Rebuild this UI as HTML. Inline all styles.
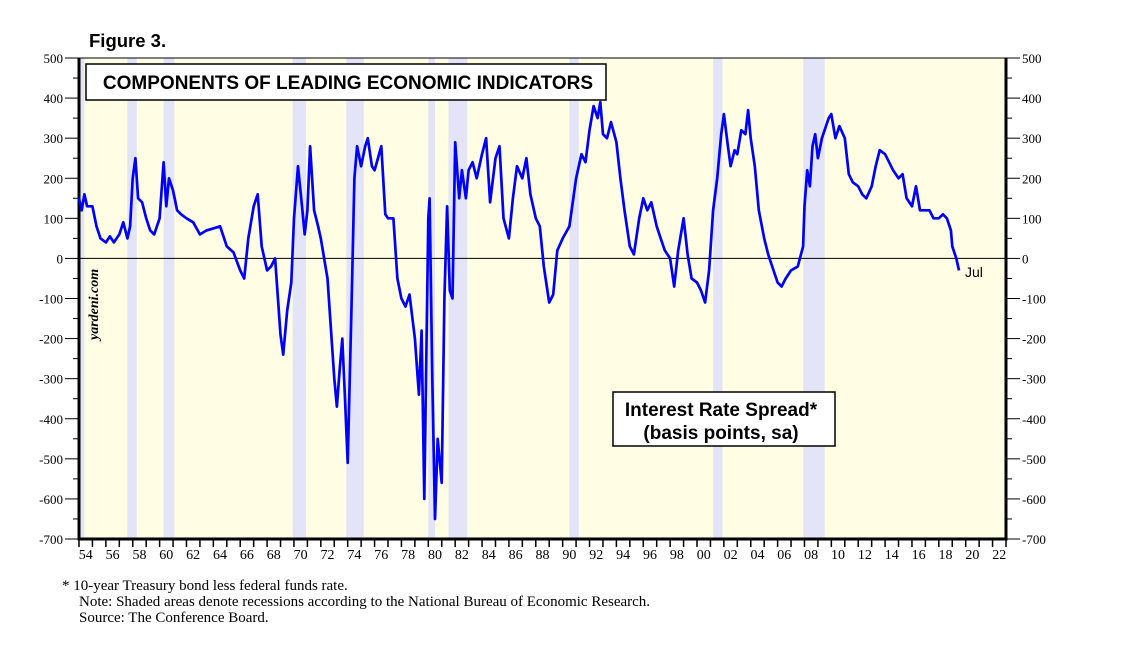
<!DOCTYPE html>
<html><head><meta charset="utf-8"><style>
body{margin:0;background:#fff;font-family:"Liberation Serif",serif}
svg text{font-family:"Liberation Serif",serif}
</style></head><body>
<svg width="1138" height="643">
<g id="bands"></g><g id="axes"></g><g id="series"></g>
<text x="89" y="47" font-weight="bold" font-size="18.5" style="font-family:'Liberation Sans',sans-serif">Figure 3.</text>
<rect x="86" y="64" width="520" height="36" fill="#fff" stroke="#000" stroke-width="1.5"/>
<text x="348" y="89" text-anchor="middle" font-weight="bold" font-size="19" style="font-family:'Liberation Sans',sans-serif">COMPONENTS OF LEADING ECONOMIC INDICATORS</text>
<rect x="613" y="392" width="222" height="54" fill="#fff" stroke="#000" stroke-width="1.5"/>
<text x="721" y="416" text-anchor="middle" font-weight="bold" font-size="19" style="font-family:'Liberation Sans',sans-serif">Interest Rate Spread*</text>
<text x="721" y="439" text-anchor="middle" font-weight="bold" font-size="19" style="font-family:'Liberation Sans',sans-serif">(basis points, sa)</text>
<text x="965" y="277" font-size="14" style="font-family:'Liberation Sans',sans-serif">Jul</text>
<text transform="translate(98,340) rotate(-90)" font-size="14" font-style="italic" font-weight="bold">yardeni.com</text>
<text x="62" y="590" font-size="15">*   10-year Treasury bond less federal funds rate.</text>
<text x="79" y="606" font-size="15">Note: Shaded areas denote recessions according to the National Bureau of Economic Research.</text>
<text x="79" y="622" font-size="15">Source: The Conference Board.</text>
</svg>
<script>
const recStart=[1953.6,1957.6,1960.3,1969.9,1973.9,1980.0,1981.5,1990.5,2001.2,2007.9];
const recEnd=[1954.4,1958.3,1961.1,1970.9,1975.2,1980.5,1982.9,1991.2,2001.9,2009.5];
const yTicks=[500,400,300,200,100,0,-100,-200,-300,-400,-500,-600,-700];
const years=[1954,1954.2,1954.4,1954.6,1955,1955.3,1955.6,1956,1956.3,1956.6,1957,1957.3,1957.6,1957.8,1958,1958.2,1958.4,1958.7,1959,1959.3,1959.6,1960,1960.3,1960.5,1960.7,1961,1961.3,1961.6,1962,1962.5,1963,1963.5,1964,1964.5,1965,1965.5,1966,1966.3,1966.6,1967,1967.3,1967.6,1968,1968.3,1968.6,1969,1969.2,1969.5,1969.8,1970,1970.3,1970.6,1970.8,1971,1971.2,1971.5,1971.8,1972,1972.5,1973,1973.2,1973.4,1973.6,1973.8,1974,1974.3,1974.5,1974.7,1975,1975.3,1975.5,1975.8,1976,1976.5,1976.8,1977,1977.4,1977.7,1978,1978.3,1978.6,1979,1979.3,1979.5,1979.7,1980,1980.1,1980.3,1980.5,1980.7,1981,1981.2,1981.4,1981.6,1981.8,1982,1982.3,1982.5,1982.8,1983,1983.3,1983.6,1984,1984.3,1984.6,1985,1985.3,1985.6,1986,1986.3,1986.6,1987,1987.3,1987.6,1988,1988.3,1988.6,1989,1989.3,1989.6,1990,1990.5,1991,1991.4,1991.7,1992,1992.3,1992.6,1992.8,1993,1993.3,1993.6,1994,1994.3,1994.6,1995,1995.3,1995.7,1996,1996.3,1996.6,1997,1997.3,1997.6,1998,1998.3,1998.6,1999,1999.3,1999.6,2000,2000.3,2000.6,2000.9,2001.2,2001.5,2001.8,2002,2002.3,2002.5,2002.8,2003,2003.3,2003.6,2003.8,2004,2004.3,2004.6,2005,2005.3,2005.6,2006,2006.3,2006.6,2007,2007.5,2007.9,2008,2008.2,2008.4,2008.6,2008.8,2009,2009.3,2009.6,2009.8,2010,2010.3,2010.6,2011,2011.3,2011.6,2012,2012.3,2012.6,2013,2013.3,2013.6,2014,2014.3,2014.6,2015,2015.3,2015.6,2016,2016.3,2016.6,2017,2017.3,2017.6,2018,2018.3,2018.6,2018.9,2019,2019.3,2019.5];
const spread=[150,120,160,130,130,80,50,40,55,40,60,90,50,80,200,250,150,140,100,70,60,100,240,130,200,170,120,110,100,90,60,70,75,80,30,15,-30,-50,50,130,160,30,-30,-20,0,-190,-240,-130,-60,100,230,130,60,120,280,120,80,50,-50,-300,-370,-280,-200,-350,-510,-100,200,280,230,280,300,230,220,280,110,100,100,-50,-100,-120,-90,-200,-340,-180,-600,100,150,-300,-650,-450,-560,-100,130,-80,-100,290,150,220,150,220,240,200,260,300,140,250,280,100,50,150,230,200,250,160,100,80,-20,-110,-90,20,50,80,200,260,240,320,380,350,390,310,300,340,290,200,120,30,10,100,150,120,140,80,50,20,0,-70,20,100,10,-50,-60,-80,-110,-30,120,200,310,360,280,230,270,260,320,310,370,300,230,120,50,10,-20,-60,-70,-50,-30,-20,30,130,220,180,280,310,250,300,330,350,360,300,330,300,210,190,180,160,150,180,230,270,260,240,220,200,210,150,130,180,120,120,120,100,100,110,100,70,30,0,-30];
const X0=79,X1=1006,Y0=58,Y1=539;
const x=y=>X0+(y-1954)*(X1-X0)/69;
const yv=v=>Y0+(500-v)*(Y1-Y0)/1200;
const NS='http://www.w3.org/2000/svg';
function mk(t,a,p){const e=document.createElementNS(NS,t);for(const k in a)e.setAttribute(k,a[k]);p.appendChild(e);return e;}
const bands=document.getElementById('bands'),axes=document.getElementById('axes'),series=document.getElementById('series');
const bg=mk('rect',{x:X0,y:Y0,width:X1-X0,height:Y1-Y0,fill:'#fffde3'},bands);


recStart.forEach((s,i)=>{const a=Math.max(s,1954);const r=mk('rect',{x:x(a),y:Y0,width:x(recEnd[i])-x(a),height:Y1-Y0,fill:'#e4e4f8'},bands);

});
yTicks.forEach(v=>{const py=yv(v);
mk('line',{x1:X0-14,x2:X0,y1:py,y2:py,stroke:'#000'},axes);
mk('line',{x1:X1,x2:X1+14,y1:py,y2:py,stroke:'#000'},axes);
if(v>-700){const pm=yv(v-50);mk('line',{x1:X0-6,x2:X0,y1:pm,y2:pm,stroke:'#000'},axes);mk('line',{x1:X1,x2:X1+6,y1:pm,y2:pm,stroke:'#000'},axes);}
const t=mk('text',{x:X0-16,y:py+5,'text-anchor':'end','font-size':13},axes);t.textContent=v;


const t2=mk('text',{x:X1+16,y:py+5,'font-size':13},axes);t2.textContent=v;

});
for(let yr=1954;yr<=2023;yr++){mk('line',{x1:x(yr),x2:x(yr),y1:Y1,y2:Y1+8,stroke:'#000','stroke-width':1.5},axes);
if(yr%2==0){const t=mk('text',{x:x(yr)+6.7,y:Y1+20,'text-anchor':'middle','font-size':14},axes);t.textContent=String(yr%100).padStart(2,'0');

}}
mk('line',{x1:X0,x2:X1,y1:yv(0),y2:yv(0),stroke:'#000','stroke-width':1},axes);
mk('path',{d:`M${X0} ${Y0}V${Y1}H${X1}V${Y0}`,fill:'none',stroke:'#000','stroke-width':3},axes);
mk('line',{x1:X0,x2:X1,y1:Y0,y2:Y0,stroke:'#000','stroke-width':1},axes);
const d=years.map((yr,i)=>(i?'L':'M')+x(yr).toFixed(1)+' '+yv(spread[i]).toFixed(1)).join('');
const p=mk('path',{d:d,fill:'none',stroke:'#0000ff','stroke-width':2.7,'stroke-linejoin':'round'},series);


</script>
</body></html>
